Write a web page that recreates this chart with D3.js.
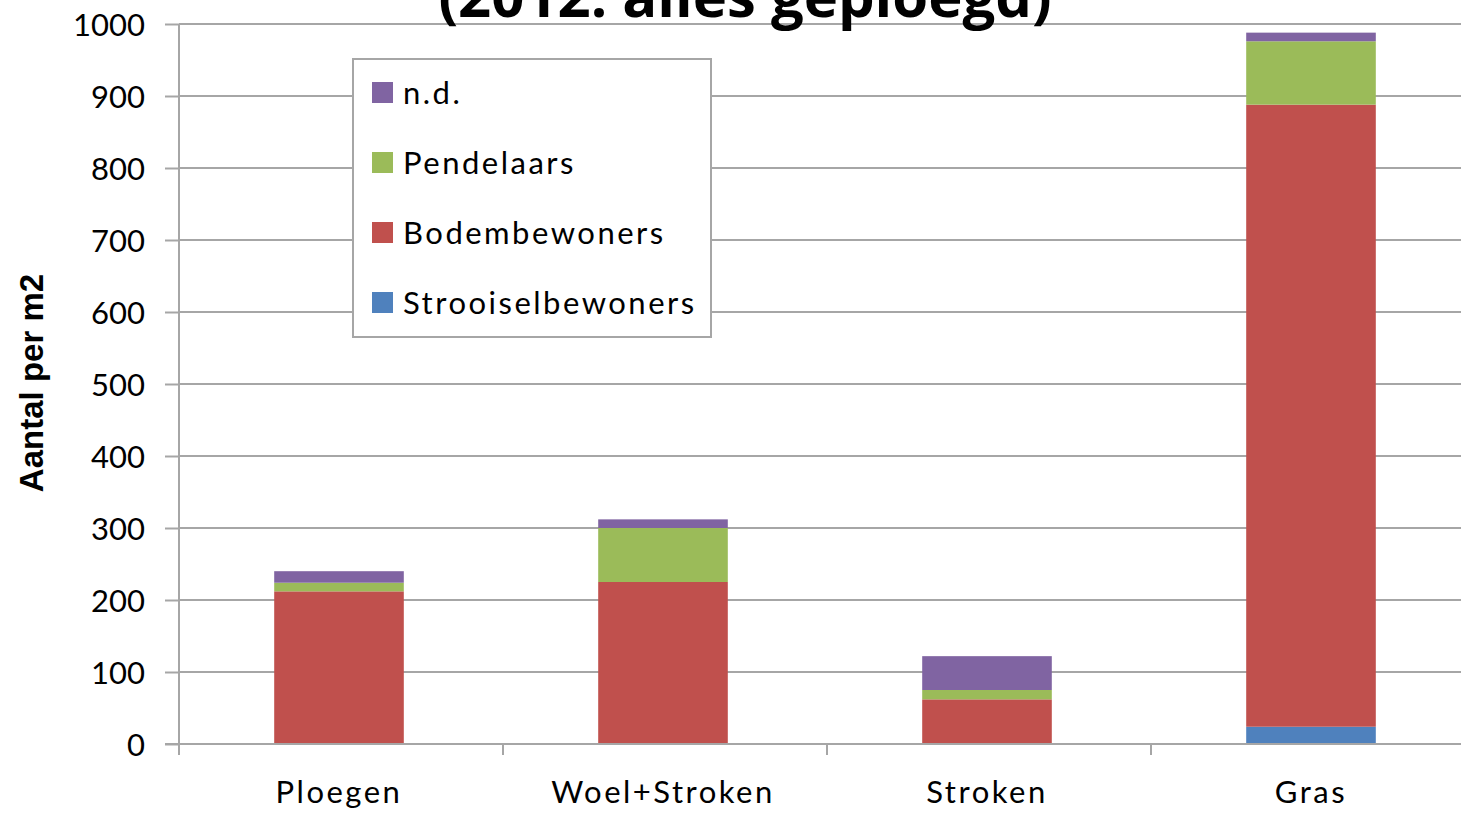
<!DOCTYPE html>
<html>
<head>
<meta charset="utf-8">
<script src="https://cdn.jsdelivr.net/npm/d3@7"></script>
<style>
  body { margin: 0; background: #fff; }
  svg { display: block; }
</style>
</head>
<body>
<svg id="chart"></svg>
<script>
// data
const categories = ['Ploegen', 'Woel+Stroken', 'Stroken', 'Gras']
const seriesNames = ['Strooiselbewoners', 'Bodembewoners', 'Pendelaars', 'n.d.']
const strooisel = [0, 0, 0, 24]
const bodem = [212, 225, 62, 864]
const pendel = [12, 75, 13, 88]
const nd = [16, 12, 47, 12]
const yTicks = [0, 100, 200, 300, 400, 500, 600, 700, 800, 900, 1000]
const colors = ['#4F81BD', '#C0504D', '#9BBB59', '#8064A2']

const width = 1461
const height = 813
const margin = { top: 24, right: 0, bottom: 69, left: 179 }

const svg = d3.select('#chart')
    .attr('width', width)
    .attr('height', height)

const rows = categories.map((c, i) => ({
    cat: c,
    Strooiselbewoners: strooisel[i],
    Bodembewoners: bodem[i],
    Pendelaars: pendel[i],
    'n.d.': nd[i]
}))
const stacked = d3.stack().keys(seriesNames)(rows)

const x = d3.scaleBand()
    .domain(categories)
    .range([margin.left - 2, margin.left - 2 + 324 * 4])
    .paddingInner(0.6)
    .paddingOuter(0.3)

const y = d3.scaleLinear()
    .domain([0, 1000])
    .range([height - margin.bottom, margin.top])

const font = 'Lato, "Open Sans", sans-serif'

// gridlines
svg.append('g')
    .selectAll('line')
    .data(yTicks.filter(d => d > 0))
    .join('line')
    .attr('x1', margin.left)
    .attr('x2', width)
    .attr('y1', d => y(d))
    .attr('y2', d => y(d))
    .attr('stroke', '#a6a6a6')
    .attr('stroke-width', 2)

// bars
svg.append('g')
    .selectAll('g')
    .data(stacked)
    .join('g')
    .attr('fill', (d, i) => colors[i])
    .selectAll('rect')
    .data(d => d)
    .join('rect')
    .attr('x', d => x(d.data.cat))
    .attr('width', x.bandwidth())
    .attr('y', d => y(d[1]))
    .attr('height', d => y(d[0]) - y(d[1]))

// y axis
const yAxis = svg.append('g')
    .attr('transform', `translate(${margin.left},0)`)
    .call(d3.axisLeft(y).tickValues(yTicks).tickFormat(d3.format('d')).tickSize(14).tickPadding(20))
yAxis.selectAll('path, line').attr('stroke', '#a6a6a6').attr('stroke-width', 2)
yAxis.select('.domain').attr('d', `M0,${y(0)}V${y(1000)}`)
yAxis.selectAll('text')
    .attr('font-family', font)
    .attr('font-size', 31)
    .attr('fill', '#000')
    .attr('dy', '0.36em')

// x axis
const bandStep = 324
const xAxisG = svg.append('g')
svg.append('line')
    .attr('x1', margin.left - 14)
    .attr('x2', width)
    .attr('y1', y(0))
    .attr('y2', y(0))
    .attr('stroke', '#a6a6a6')
    .attr('stroke-width', 2)
xAxisG.selectAll('line')
    .data(d3.range(4))
    .join('line')
    .attr('x1', i => margin.left + i * bandStep)
    .attr('x2', i => margin.left + i * bandStep)
    .attr('y1', y(0))
    .attr('y2', y(0) + 11)
    .attr('stroke', '#a6a6a6')
    .attr('stroke-width', 2)
xAxisG.selectAll('text')
    .data(categories)
    .join('text')
    .attr('x', d => x(d) + x.bandwidth() / 2)
    .attr('y', 803)
    .attr('text-anchor', 'middle')
    .attr('font-family', font)
    .attr('font-size', 31)
    .attr('letter-spacing', 2.5)
    .text(d => d)

// y title
svg.append('text')
    .attr('transform', 'translate(43,383) rotate(-90)')
    .attr('text-anchor', 'middle')
    .attr('font-family', '"Liberation Sans", Arial, sans-serif')
    .attr('font-weight', 'bold')
    .attr('font-size', 33)
    .text('Aantal per m2')

// title (cut off at the top, as in the original)
svg.append('text')
    .attr('x', 745)
    .attr('y', 17)
    .attr('text-anchor', 'middle')
    .attr('font-family', '"Open Sans", sans-serif')
    .attr('font-weight', 'bold')
    .attr('font-size', 58)
    .text('(2012: alles geploegd)')

// legend
const legend = svg.append('g')
legend.append('rect')
    .attr('x', 353)
    .attr('y', 59)
    .attr('width', 358)
    .attr('height', 278)
    .attr('fill', '#fff')
    .attr('stroke', '#a6a6a6')
    .attr('stroke-width', 2)

const legendItems = seriesNames.slice().reverse()
const legendColors = colors.slice().reverse()
const item = legend.selectAll('g.item')
    .data(legendItems)
    .join('g')
    .attr('class', 'item')
    .attr('transform', (d, i) => `translate(372,${93 + i * 70})`)
item.append('rect')
    .attr('y', -11)
    .attr('width', 21)
    .attr('height', 21)
    .attr('fill', (d, i) => legendColors[i])
item.append('text')
    .attr('x', 31)
    .attr('dy', '0.36em')
    .attr('font-family', font)
    .attr('font-size', 31)
    .attr('letter-spacing', 2.5)
    .text(d => d)
</script>
</body>
</html>
